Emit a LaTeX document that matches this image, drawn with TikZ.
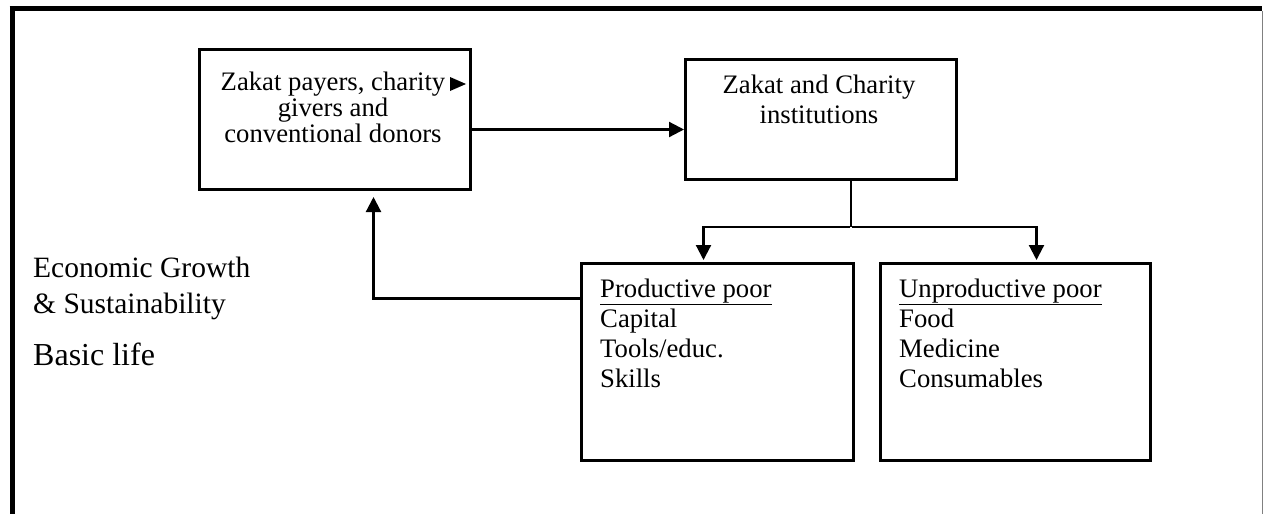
\documentclass[tikz,border=0pt]{standalone}
\usepackage{fontspec}
\setmainfont{Liberation Serif}
\usetikzlibrary{arrows.meta}
\begin{document}
\begin{tikzpicture}[x=1pt,y=-1pt,
  box/.style={draw,line width=3pt,rectangle,anchor=north west,inner sep=0pt},
  conn/.style={line width=2.2pt},
  arr/.style={conn,-{Triangle[length=15pt,width=15pt]}},
  boxtext/.style={inner sep=0pt,font=\fontsize{26.7}{26}\selectfont},
  listtext/.style={inner sep=0pt,align=left,anchor=base west,font=\fontsize{26.7}{30}\selectfont},
  sidetext/.style={inner sep=0pt,align=left,anchor=base west}]
\useasboundingbox (0,0) rectangle (1263,514);
% outer frame
\draw[line width=5pt] (9.5,8.5) -- (1262,8.5);
\draw[line width=5pt] (12,6) -- (12,514);
\draw[line width=1pt,gray] (1262.5,11) -- (1262.5,514);
% boxes
\node[box,minimum width=271pt,minimum height=140pt] (b1) at (198,48) {};
\node[box,minimum width=271pt,minimum height=120pt] (b2) at (684,58) {};
\node[box,minimum width=272pt,minimum height=197pt] (b3) at (580,262) {};
\node[box,minimum width=270pt,minimum height=197pt] (b4) at (879,262) {};
% texts (base anchor = baseline of last line)
\node[boxtext,align=center,anchor=base] (t1) at (333,142)
  {Zakat payers, charity\\givers and\\conventional donors};
\node[boxtext,align=center,anchor=base,font=\fontsize{26.7}{30}\selectfont] (t2) at (819,123)
  {Zakat and Charity\\institutions};
\node[listtext] (t3) at (600,387) {\underline{Productive poor}\\Capital\\Tools/educ.\\Skills};
\node[listtext] (t4) at (899,387) {\underline{Unproductive poor}\\Food\\Medicine\\Consumables};
\node[sidetext,font=\fontsize{29.5}{36}\selectfont] (eg) at (33,313) {Economic Growth\\\& Sustainability};
\node[sidetext,font=\fontsize{32}{36}\selectfont] (bl) at (33,365) {Basic life};
% stray arrowhead
\fill (450,77) -- (466,84) -- (450,91) -- cycle;
% connectors
\draw[arr] ([yshift=-10pt]b1.east) -- ([yshift=-10pt]b2.west);
\coordinate (split) at (851,227);
\draw[conn] (b2.south -| split) -- (split);
\draw[arr] ([xshift=-1.1pt]split) -| ([xshift=-14pt,yshift=2pt]b3.north);
\draw[arr] ([xshift=1.1pt]split) -| ([xshift=21pt,yshift=2pt]b4.north);
\draw[arr] ([yshift=63.5pt]b3.west) -| ([xshift=38.5pt,yshift=-6pt]b1.south);
\end{tikzpicture}
\end{document}
